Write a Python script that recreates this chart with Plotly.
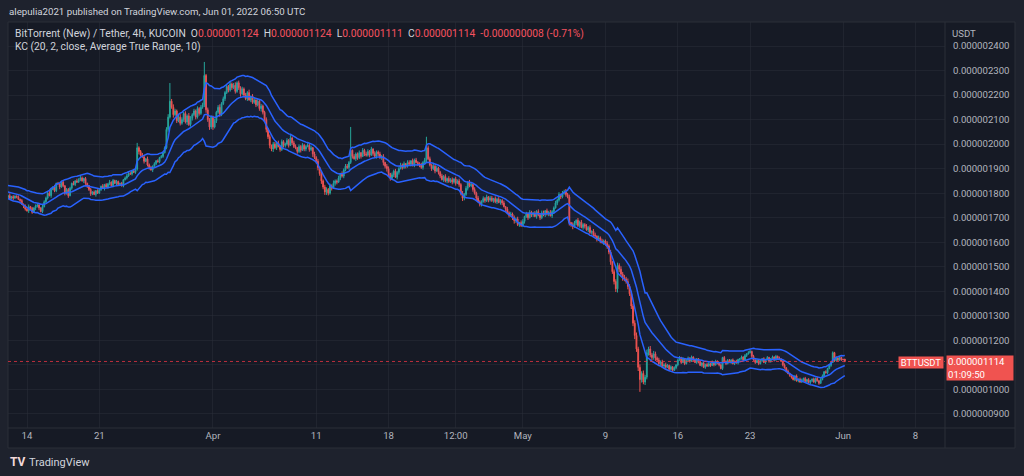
import pandas as pd
import numpy as np
import plotly.graph_objects as go

# ---------------- data (prices in units of 1e-9 USDT) ----------------
# one row per day (Mar 11 .. Jun 1), six 4h candle closes per row
close_rows = [
    [1815, 1808, 1812, 1800, 1795, 1790],  # Mar 11 (off-screen warm-up)
    [1782, 1790, 1778, 1786, 1780, 1788],  # Mar 12
    [1785, 1775, 1770, 1755, 1748, 1735],
    [1728, 1745, 1738, 1722, 1740, 1748],  # Mar 14
    [1752, 1740, 1725, 1745, 1765, 1780],
    [1800, 1790, 1815, 1825, 1810, 1840],
    [1838, 1825, 1845, 1830, 1800, 1815],
    [1790, 1820, 1840, 1835, 1850, 1845],
    [1855, 1862, 1850, 1860, 1840, 1830],
    [1815, 1798, 1805, 1795, 1810, 1800],
    [1815, 1828, 1820, 1835, 1825, 1838],  # Mar 21
    [1845, 1830, 1852, 1840, 1848, 1835],
    [1840, 1830, 1855, 1862, 1870, 1880],
    [1878, 1890, 1885, 1898, 1985, 1970],
    [1955, 1948, 1930, 1940, 1915, 1905],
    [1895, 1910, 1920, 1932, 1928, 1945],
    [1950, 1965, 1985, 2060, 2110, 2175],
    [2150, 2120, 2135, 2095, 2110, 2085],  # Mar 28
    [2100, 2125, 2090, 2115, 2080, 2105],
    [2120, 2135, 2110, 2145, 2125, 2150],
    [2160, 2280, 2140, 2100, 2070, 2110],  # Mar 31
    [2070, 2095, 2130, 2150, 2120, 2165],  # Apr 1
    [2185, 2210, 2235, 2220, 2245, 2230],
    [2240, 2215, 2250, 2230, 2205, 2225],
    [2200, 2185, 2210, 2180, 2195, 2170],
    [2180, 2160, 2175, 2145, 2155, 2130],
    [2100, 2060, 2030, 1995, 1980, 2000],
    [1985, 2005, 1990, 1978, 2010, 1995],
    [2000, 2015, 1995, 2025, 2005, 1990],
    [1985, 1970, 1990, 1975, 1995, 1980],
    [1990, 1995, 1978, 1985, 1960, 1945],
    [1930, 1905, 1880, 1850, 1825, 1805],  # Apr 11
    [1815, 1800, 1830, 1820, 1840, 1850],
    [1845, 1862, 1880, 1870, 1895, 1910],
    [1905, 1925, 1975, 1950, 1940, 1960],
    [1945, 1965, 1950, 1975, 1960, 1955],
    [1970, 1955, 1980, 1962, 1950, 1968],
    [1960, 1945, 1950, 1925, 1910, 1900],
    [1880, 1860, 1875, 1890, 1865, 1885],  # Apr 18
    [1900, 1915, 1905, 1920, 1910, 1925],
    [1918, 1932, 1915, 1935, 1925, 1920],
    [1915, 1905, 1925, 1935, 1985, 1940],
    [1915, 1900, 1910, 1890, 1902, 1885],
    [1870, 1855, 1868, 1850, 1860, 1848],
    [1855, 1845, 1858, 1840, 1850, 1835],
    [1800, 1780, 1795, 1820, 1845, 1830],  # Apr 25
    [1835, 1815, 1800, 1780, 1765, 1755],
    [1765, 1778, 1770, 1785, 1772, 1780],
    [1770, 1778, 1765, 1775, 1762, 1770],
    [1760, 1745, 1735, 1720, 1710, 1715],
    [1700, 1688, 1695, 1672, 1680, 1668],
    [1685, 1705, 1715, 1700, 1722, 1712],  # May 1
    [1718, 1705, 1725, 1712, 1700, 1720],
    [1712, 1728, 1715, 1722, 1708, 1725],
    [1740, 1760, 1772, 1795, 1785, 1800],
    [1805, 1795, 1785, 1680, 1672, 1665],
    [1678, 1690, 1668, 1682, 1660, 1672],
    [1665, 1650, 1660, 1640, 1645, 1630],
    [1625, 1612, 1618, 1605, 1598, 1605],
    [1595, 1585, 1560, 1520, 1480, 1440],  # May 9
    [1410, 1505, 1490, 1470, 1455, 1450],
    [1440, 1420, 1390, 1340, 1270, 1220],
    [1165, 1090, 1040, 1065, 1030, 1050],
    [1150, 1165, 1140, 1130, 1145, 1128],
    [1120, 1105, 1112, 1095, 1100, 1090],
    [1098, 1082, 1092, 1078, 1088, 1100],
    [1120, 1130, 1110, 1125, 1105, 1118],  # May 16
    [1128, 1115, 1132, 1120, 1110, 1125],
    [1112, 1098, 1108, 1090, 1102, 1095],
    [1105, 1098, 1112, 1100, 1115, 1108],
    [1100, 1085, 1130, 1115, 1105, 1118],
    [1110, 1120, 1105, 1115, 1108, 1122],
    [1125, 1132, 1120, 1138, 1145, 1150],
    [1155, 1135, 1120, 1110, 1118, 1105],  # May 23
    [1118, 1125, 1110, 1122, 1130, 1115],
    [1125, 1132, 1120, 1135, 1128, 1122],
    [1115, 1100, 1088, 1075, 1065, 1058],
    [1050, 1040, 1055, 1035, 1042, 1030],
    [1038, 1045, 1032, 1040, 1028, 1036],
    [1042, 1030, 1045, 1035, 1025, 1040],
    [1055, 1072, 1068, 1085, 1098, 1110],
    [1150, 1118, 1128, 1120, 1130, 1122],  # May 31
    [1122, 1114],                          # Jun 1
]

# wick lengths per candle, one digit per candle, in steps of WICK_UNIT
WICK_UNIT = 3
up_wick = [
    "212132", "213121", "121212", "231212", "121322", "232131", "212312", "221313",
    "232121", "121212", "213121", "312121", "121232", "213202", "232132", "212121",
    "212340", "343234", "323243", "232323", "302322",
    "232342", "323232", "342323", "232413", "313232", "232313", "323132", "232423",
    "313232", "232313", "231323", "323242", "231323", "323132", "231323", "323132",
    "232313", "313232", "232313", "313232", "232303", "313232", "232313", "231323",
    "232313", "313232", "232313", "313232", "231323", "232313",
    "313232", "232313", "313232", "232313", "342313", "313232", "232313", "313232",
    "232313", "343434", "343434", "434343", "434343", "232323", "212121", "121212",
    "212121", "121212", "212121", "121212", "212121", "121212", "012121", "212121",
    "121212", "212121", "121212", "212121", "121212", "212121", "012121",
    "10",
]
lo_wick = [
    "121213", "122131", "213132", "132213", "231212", "213122", "131232", "312121",
    "121323", "232131", "121312", "212131", "212121", "121224", "213123", "131212",
    "121232", "242323", "232423", "323232", "234343",
    "423232", "232323", "232342", "323132", "232343", "343434", "231323", "323132",
    "232313", "313242", "343434", "432313", "313232", "232313", "323132", "231323",
    "323434", "432313", "313232", "232313", "323232", "232313", "313232", "232313",
    "343232", "232313", "313232", "232313", "313232", "343232",
    "232313", "313232", "232313", "313232", "232434", "232313", "313232", "232313",
    "343434", "054343", "343445", "450434", "343434", "323232", "121212", "212121",
    "121212", "212121", "121212", "212121", "121212", "212121", "121212", "121212",
    "212121", "121212", "212121", "121212", "212121", "121212", "121212",
    "11",
]

# isolated long wicks
spike_time = ["2022-03-24 16:00", "2022-03-27 20:00", "2022-03-31 04:00",
              "2022-04-14 08:00", "2022-04-21 16:00", "2022-05-23 00:00",
              "2022-05-31 00:00"]
spike_high = [2005, 2249, 2335, 2070, 2030, 1162, 1155]
dip_time = ["2022-05-10 00:00", "2022-05-12 08:00"]
dip_low = [1397, 990]

# current (last) candle from the legend: O, H, L, C
last_ohlc = [1124, 1124, 1111, 1114]
last_price = 1114

tick_dates = ["2022-03-14 00:00", "2022-03-21 00:00", "2022-04-01 00:00",
              "2022-04-11 00:00", "2022-04-18 00:00", "2022-04-24 12:00",
              "2022-05-01 00:00", "2022-05-09 00:00", "2022-05-16 00:00",
              "2022-05-23 00:00", "2022-06-01 00:00", "2022-06-08 00:00"]
tick_text = ["14", "21", "Apr", "11", "18", "12:00", "May", "9", "16", "23", "Jun", "8"]
price_ticks = [900, 1000, 1100, 1200, 1300, 1400, 1500, 1600, 1700, 1800,
               1900, 2000, 2100, 2200, 2300, 2400]
hidden_tick = 1100  # covered by the last-price label

# ---------------- build candles ----------------
closes = [c for row in close_rows for c in row]
ups = [int(d) for s in up_wick for d in s]
los = [int(d) for s in lo_wick for d in s]
n = len(closes)
times = pd.date_range("2022-03-11 00:00", periods=n, freq="4h")
opens = [closes[0]] + closes[:-1]
highs = [max(o, c) + u * WICK_UNIT for o, c, u in zip(opens, closes, ups)]
lows = [min(o, c) - l * WICK_UNIT for o, c, l in zip(opens, closes, los)]
tindex = {t.strftime("%Y-%m-%d %H:%M"): i for i, t in enumerate(times)}
for t, hv in zip(spike_time, spike_high):
    highs[tindex[t]] = max(highs[tindex[t]], hv)
for t, lv in zip(dip_time, dip_low):
    lows[tindex[t]] = min(lows[tindex[t]], lv)
opens[-1], highs[-1], lows[-1], closes[-1] = last_ohlc

o = np.array(opens, float); h = np.array(highs, float)
l = np.array(lows, float); c = np.array(closes, float)

# Keltner channel: EMA(close,20) +/- 2*ATR(10)
ema = np.zeros(n); atr = np.zeros(n)
a = 2.0 / 21.0
for i in range(n):
    if i == 0:
        ema[i] = c[i]
        atr[i] = h[i] - l[i]
    else:
        tr = max(h[i] - l[i], abs(h[i] - c[i - 1]), abs(l[i] - c[i - 1]))
        ema[i] = a * c[i] + (1 - a) * ema[i - 1]
        atr[i] = (atr[i - 1] * 9 + tr) / 10.0
upper = ema + 2 * atr
lower = ema - 2 * atr

S = 1e-9
# ---------------- styling ----------------
FONT = "Roboto"
OUTER = "#1e222d"
CHART = "#161a25"
BORDER = "#2a2e39"
TXT = "#d1d4dc"
AXT = "#b2b5be"
UP = "#26a69a"
DN = "#ef5350"
KC = "#2962ff"
GRID = "rgba(42,46,57,0.55)"

ML, MR, MT, MB = 8, 79, 22, 48
W, H = 1024 - ML - MR, 476 - MT - MB


def px(X):
    return (X - ML) / W


def py(Y):
    return (476 - MB - Y) / H


fig = go.Figure()
fig.add_trace(go.Candlestick(
    x=times, open=o * S, high=h * S, low=l * S, close=c * S,
    increasing=dict(line=dict(color=UP, width=1), fillcolor=UP),
    decreasing=dict(line=dict(color=DN, width=1), fillcolor=DN),
    whiskerwidth=0, hoverinfo="skip"))
fig.add_trace(go.Scatter(x=times, y=upper * S, mode="lines",
                         line=dict(color=KC, width=1.5), hoverinfo="skip"))
fig.add_trace(go.Scatter(x=times, y=lower * S, mode="lines", fill="tonexty",
                         fillcolor="rgba(41,98,255,0.07)",
                         line=dict(color=KC, width=1.5), hoverinfo="skip"))
fig.add_trace(go.Scatter(x=times, y=ema * S, mode="lines",
                         line=dict(color=KC, width=1.5), hoverinfo="skip"))

x_left = pd.Timestamp("2022-03-12 03:52")
x_right = x_left + pd.Timedelta(days=W / 10.33)
y_bot = (2400 - (476 - MB - 46) / 0.2453) * S
y_top = (2400 + (46 - MT) / 0.2453) * S

fig.update_layout(
    width=1024, height=476,
    margin=dict(l=ML, r=MR, t=MT, b=MB, pad=0, autoexpand=False),
    paper_bgcolor=OUTER, plot_bgcolor=CHART,
    showlegend=False,
    font=dict(family=FONT, color=AXT, size=10),
    xaxis=dict(type="date",
               range=[x_left.strftime("%Y-%m-%d %H:%M"), x_right.strftime("%Y-%m-%d %H:%M")],
               tickvals=tick_dates, ticktext=tick_text,
               showgrid=True, gridcolor=GRID, gridwidth=1, zeroline=False,
               showline=False, ticks="", tickfont=dict(size=9.6, color=AXT),
               rangeslider=dict(visible=False), fixedrange=True),
    yaxis=dict(side="right", range=[y_bot, y_top],
               tickvals=[p * S for p in price_ticks],
               ticktext=["" if p == hidden_tick else f"0.{p:09d}" for p in price_ticks],
               showgrid=True, gridcolor=GRID, gridwidth=1, zeroline=False,
               showline=False, ticks="", ticklabelstandoff=7,
               tickfont=dict(size=9.6, color=AXT), fixedrange=True),
)

shapes = [
    dict(type="rect", xref="paper", yref="paper", x0=px(8), x1=px(1015),
         y0=py(448), y1=py(22), fillcolor=CHART, line=dict(color=BORDER, width=1),
         layer="below"),
    dict(type="line", xref="paper", yref="paper", x0=px(945), x1=px(945),
         y0=py(448), y1=py(22), line=dict(color=BORDER, width=1)),
    dict(type="line", xref="paper", yref="paper", x0=px(8), x1=px(1015),
         y0=py(428), y1=py(428), line=dict(color=BORDER, width=1)),
    dict(type="line", xref="paper", yref="y", x0=0, x1=1,
         y0=last_price * S, y1=last_price * S,
         line=dict(color="rgba(242,54,69,0.75)", width=1, dash="dot")),
]
fig.update_layout(shapes=shapes)


def ann(text, X, Y, size, color, xanchor="left", **kw):
    return dict(text=text, x=px(X), y=py(Y), xref="paper", yref="paper",
                xanchor=xanchor, yanchor="middle", showarrow=False,
                font=dict(family=FONT, size=size, color=color), **kw)


NB = "\u00a0"
RV = "#f7525f"
legend1 = (f"BitTorrent (New) / Tether, 4h, KUCOIN{NB}{NB}"
           f"O<span style='color:{RV}'>0.{last_ohlc[0]:09d}</span>{NB}{NB}"
           f"H<span style='color:{RV}'>0.{last_ohlc[1]:09d}</span>{NB}{NB}"
           f"L<span style='color:{RV}'>0.{last_ohlc[2]:09d}</span>{NB}{NB}"
           f"C<span style='color:{RV}'>0.{last_ohlc[3]:09d}{NB}{NB}-0.000000008 (-0.71%)</span>")

annotations = [
    ann("alepulia2021 published on TradingView.com, Jun 01, 2022 06:50 UTC", 7, 12, 9.7, TXT),
    ann(legend1, 13, 33, 10.3, TXT),
    ann("KC (20, 2, close, Average True Range, 10)", 13, 46, 10.3, TXT),
    ann("USDT", 950, 33, 9.6, AXT),
    ann("BTTUSDT", 920.5, 362, 9.4, "#ffffff", xanchor="center",
        bgcolor="#f05350", width=44, height=11, borderpad=0),
    ann(f"0.{last_price:09d}<br>01:09:50", 946, 368, 9.6, "#ffffff",
        bgcolor="#f05350", width=64, height=22, borderpad=1, align="left"),
    ann("<b>TV</b>", 8, 462, 12, "#f2d9d9"),
    ann("TradingView", 27, 462, 11, TXT),
]
fig.update_layout(annotations=annotations)

fig.write_html(
    "out.html",
    config={"displayModeBar": False, "staticPlot": True},
    post_script=("document.body.style.margin='0';"
                 "document.documentElement.style.margin='0';"
                 "document.body.style.background='" + OUTER + "';"))
